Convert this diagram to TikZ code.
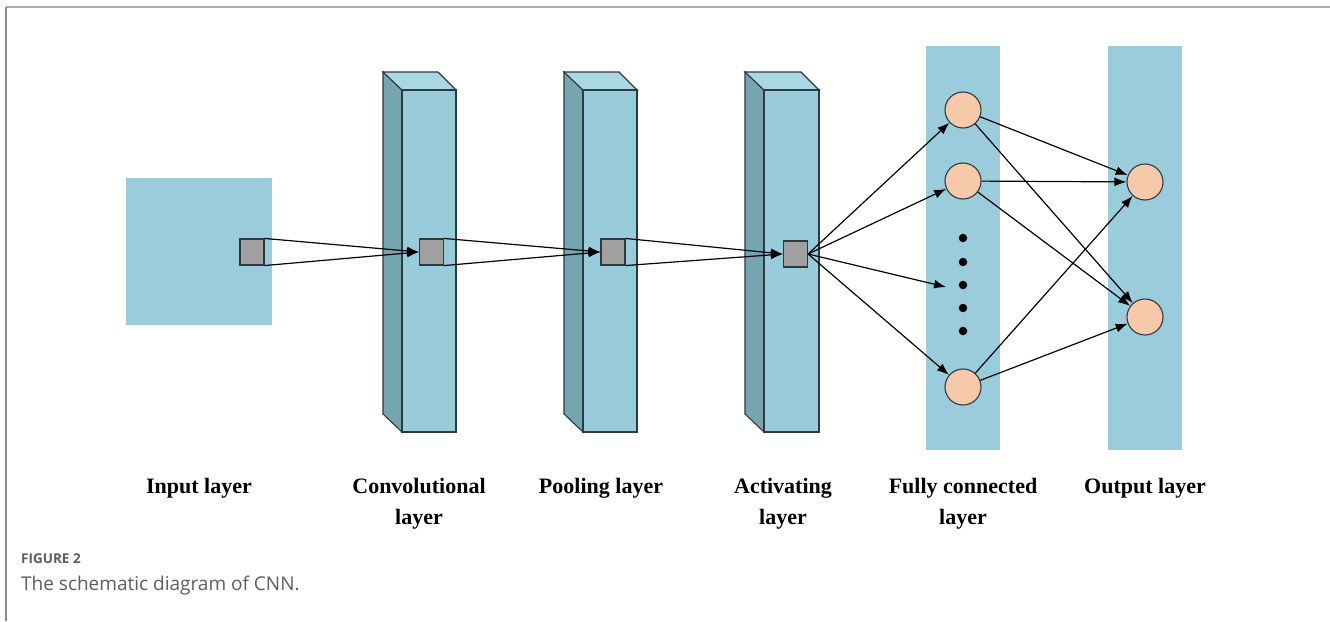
\documentclass[tikz,border=0pt]{standalone}
\usepackage{fontspec}
\setmainfont{Liberation Serif}
\newfontfamily\capfont{Open Sans}
\usetikzlibrary{arrows.meta}

\definecolor{facefront}{HTML}{99CCDA}
\definecolor{faceside}{HTML}{76A5B2}
\definecolor{facetop}{HTML}{AAD7E4}
\definecolor{plane}{HTML}{9ACCDB}
\definecolor{cellgray}{HTML}{A0A0A0}
\definecolor{neuron}{HTML}{F6C9AA}
\definecolor{edgedark}{HTML}{2E3A3E}
\definecolor{captiongray}{HTML}{5E5E5E}

\tikzset{
  cell/.style={draw=edgedark, fill=cellgray, line width=1.1pt, minimum width=24pt, minimum height=26pt, inner sep=0pt},
  unit/.style={circle, draw=edgedark, fill=neuron, line width=1.1pt, minimum size=36pt, inner sep=0pt},
  flow/.style={line width=1.2pt, -{Latex[length=12pt,width=9pt]}},
  layerlabel/.style={font=\fontsize{22}{31}\selectfont\bfseries, align=center, anchor=north, inner sep=0pt},
  prismline/.style={draw=edgedark, line width=1.1pt},
  dotmark/.style={circle, fill=black, minimum size=8.5pt, inner sep=0pt}
}

% front face from x=#1 to x=#2, depth offset 19/18
\newcommand{\layerprism}[2]{%
  \fill[faceside, prismline] (#1-19,72) -- (#1,90) -- (#1,432) -- (#1-19,414) -- cycle;
  \fill[facetop, prismline] (#1-19,72) -- (#2-18,72) -- (#2,90) -- (#1,90) -- cycle;
  \fill[facefront, prismline] (#1,90) rectangle (#2,432);
}

\begin{document}
\begin{tikzpicture}[x=1pt, y=-1pt]
  \useasboundingbox (0,0) rectangle (1330,621);
  \fill[white] (0,0) rectangle (1330,621);

  % frame lines
  \draw[color=black!32, line width=2.4pt] (6,7) -- (1330,7);
  \draw[color=black!45, line width=1.6pt] (6,7) -- (6,621);

  % input plane
  \fill[plane] (126,178) rectangle (272,325);

  % feature-map prisms
  \layerprism{402}{456}
  \layerprism{583}{637}
  \layerprism{764}{819}

  % dense columns
  \fill[plane] (926,46) rectangle (1000,450);
  \fill[plane] (1108,46) rectangle (1182,450);

  % receptive-field cells
  \node[cell] (c0) at (252,252) {};
  \node[cell] (c1) at (431.5,252) {};
  \node[cell] (c2) at (613,252) {};
  \node[cell] (c3) at (795.5,254) {};

  \draw[flow] (c0.north east) -- (c1.west);
  \draw[flow] (c0.south east) -- (c1.west);
  \draw[flow] (c1.north east) -- (c2.west);
  \draw[flow] (c1.south east) -- (c2.west);
  \draw[flow] (c2.north east) -- (c3.west);
  \draw[flow] (c2.south east) -- (c3.west);

  % fully connected units
  \node[unit] (f1) at (963,110) {};
  \node[unit] (f2) at (963,181) {};
  \node[unit] (f3) at (963,387) {};
  \coordinate (fmid) at (946,287);
  \foreach \yy/\nm in {238/d1,262/d2,285/d3,308/d4,331/d5}
    \node[dotmark] (\nm) at (963,\yy) {};

  % output units
  \node[unit] (o1) at (1145,182) {};
  \node[unit] (o2) at (1145,317) {};

  \draw[flow] (c3.east) -- (f1);
  \draw[flow] (c3.east) -- (f2);
  \draw[flow] (c3.east) -- (fmid);
  \draw[flow] (c3.east) -- (f3);

  \draw[flow] (f1) -- (o1);
  \draw[flow] (f1) -- (o2);
  \draw[flow] (f2) -- (o1);
  \draw[flow] (f2) -- (o2);
  \draw[flow] (f3) -- (o1);
  \draw[flow] (f3) -- (o2);

  % layer captions
  \node[layerlabel] (l0) at (199,478) {Input layer};
  \node[layerlabel] (l1) at (419,478) {Convolutional\\layer};
  \node[layerlabel] (l2) at (601,478) {Pooling layer};
  \node[layerlabel] (l3) at (783,478) {Activating\\layer};
  \node[layerlabel] (l4) at (963,478) {Fully connected\\layer};
  \node[layerlabel] (l5) at (1145,478) {Output layer};

  % figure caption
  \node[anchor=base west, inner sep=0pt, text=captiongray, font=\capfont\fontsize{13.5}{16}\selectfont\bfseries] (fig) at (21,563) {FIGURE 2};
  \node[anchor=base west, inner sep=0pt, text=captiongray, font=\capfont\fontsize{19}{22}\selectfont] (cap) at (21,590) {The schematic diagram of CNN.};
\end{tikzpicture}
\end{document}
